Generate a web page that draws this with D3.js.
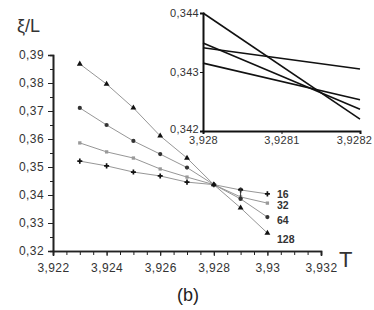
<!DOCTYPE html>
<html>
<head>
<meta charset="utf-8">
<script src="https://cdn.jsdelivr.net/npm/d3@7/dist/d3.min.js"></script>
<style>
  body { margin: 0; background: #fff; }
  svg text { font-family: Arial, "Liberation Sans", sans-serif; }
</style>
</head>
<body>
<svg id="chart" width="374" height="310"></svg>
<script>
// Main plot data
var temps = [3.923, 3.924, 3.925, 3.926, 3.927, 3.928, 3.929, 3.930];
var xi16  = [0.3521, 0.3504, 0.3482, 0.3468, 0.3446, 0.3437, 0.3418, 0.3404];
var xi32  = [0.3586, 0.3554, 0.3532, 0.3493, 0.3464, 0.3437, 0.3393, 0.3371];
var xi64  = [0.3711, 0.3650, 0.3593, 0.3546, 0.3498, 0.3437, 0.3386, 0.3321];
var xi128 = [0.3868, 0.3796, 0.3711, 0.3611, 0.3532, 0.3437, 0.3354, 0.3264];
var sizes = ["16", "32", "64", "128"];
var xTicks = [3.922, 3.924, 3.926, 3.928, 3.930, 3.932];
var yTicks = [0.32, 0.33, 0.34, 0.35, 0.36, 0.37, 0.38, 0.39];

// Inset data (zoom around the crossing)
var insetT = [3.928, 3.9282];
var in16  = [0.34341, 0.34305];
var in32  = [0.34315, 0.34253];
var in64  = [0.34349, 0.34237];
var in128 = [0.34400, 0.34220];
var insetXTicks = [3.928, 3.9281, 3.9282];
var insetYTicks = [0.342, 0.343, 0.344];

var fmt = function(d) { return String(+d.toFixed(4)).replace(".", ","); };

var svg = d3.select("#chart");

// Scales
var x = d3.scaleLinear().domain([3.922, 3.932]).range([53, 321]);
var y = d3.scaleLinear().domain([0.32, 0.39]).range([251, 55]);

// Y axis
var yAxis = svg.append("g").attr("transform", "translate(53,0)")
  .call(d3.axisLeft(y).tickValues(d3.range(0.32, 0.3901, 0.005)).tickSize(3).tickFormat(""));
yAxis.append("g").call(d3.axisLeft(y).tickValues(yTicks).tickSize(5).tickFormat(fmt));
yAxis.selectAll("path").attr("stroke", "#222").attr("stroke-width", 1.6);
yAxis.selectAll("line").attr("stroke", "#222");
yAxis.selectAll("text").attr("font-size", 12).attr("letter-spacing", 0.4).attr("fill", "#333").attr("dx", -1);

// X axis
var xAxis = svg.append("g").attr("transform", "translate(0,251)")
  .call(d3.axisBottom(x).tickValues(d3.range(3.922, 3.93201, 0.0005)).tickSize(4).tickFormat(""));
xAxis.append("g").call(d3.axisBottom(x).tickValues(xTicks).tickSize(5).tickFormat(fmt));
xAxis.selectAll("path").attr("stroke", "#222").attr("stroke-width", 1.6);
xAxis.selectAll("line").attr("stroke", "#222");
xAxis.selectAll("text").attr("font-size", 12).attr("letter-spacing", 0.4).attr("fill", "#333").attr("dy", "1.1em");

// Series
var series = [
  { name: "16",  vals: xi16,  shape: d3.symbolCross,    size: 14, fill: "#111", ly: 198 },
  { name: "32",  vals: xi32,  shape: d3.symbolSquare,   size: 11, fill: "#999", ly: 209 },
  { name: "64",  vals: xi64,  shape: d3.symbolCircle,   size: 14, fill: "#333", ly: 224 },
  { name: "128", vals: xi128, shape: d3.symbolTriangle, size: 15, fill: "#111", ly: 243 }
];

var line = d3.line().x(function(d) { return x(d[0]); }).y(function(d) { return y(d[1]); });

series.forEach(function(s, k) {
  var pts = temps.map(function(t, i) { return [t, s.vals[i]]; });
  svg.append("path").datum(pts)
    .attr("d", line).attr("fill", "none").attr("stroke", "#8a8a8a").attr("stroke-width", 0.9);
  svg.selectAll(".m" + k).data(pts).enter().append("path")
    .attr("transform", function(d) { return "translate(" + x(d[0]) + "," + y(d[1]) + ")"; })
    .attr("d", d3.symbol().type(s.shape).size(s.size))
    .attr("fill", s.fill);
  svg.append("text").attr("x", 277).attr("y", s.ly)
    .attr("font-size", 10.5).attr("font-weight", "bold").attr("fill", "#333").text(sizes[k]);
});

// small error bar at 3.929
var ex = x(3.929), ey1 = y(0.3423), ey2 = y(0.3388);
svg.append("path").attr("d", "M" + ex + "," + ey1 + "V" + ey2 +
    "M" + (ex - 2) + "," + ey1 + "H" + (ex + 2) + "M" + (ex - 2) + "," + ey2 + "H" + (ex + 2))
  .attr("fill", "none").attr("stroke", "#333").attr("stroke-width", 1);

// Axis titles
svg.append("text").attr("x", 17).attr("y", 32).attr("font-size", 18).attr("fill", "#333").text("ξ/L");
svg.append("text").attr("x", 339).attr("y", 267).attr("font-size", 22).attr("fill", "#333").text("T");
svg.append("text").attr("x", 188).attr("y", 301).attr("text-anchor", "middle")
  .attr("font-family", "'Liberation Serif', 'Times New Roman', serif")
  .attr("font-size", 18).attr("fill", "#222").text("(b)");

// Inset
var ix = d3.scaleLinear().domain([3.928, 3.9282]).range([203, 360]);
var iy = d3.scaleLinear().domain([0.342, 0.344]).range([131, 13]);

var iyAxis = svg.append("g").attr("transform", "translate(203,0)")
  .call(d3.axisLeft(iy).tickValues(insetYTicks).tickSize(3).tickFormat(fmt));
var ixAxis = svg.append("g").attr("transform", "translate(0,131)")
  .call(d3.axisBottom(ix).tickValues(insetXTicks).tickSize(3).tickFormat(fmt));
[iyAxis, ixAxis].forEach(function(a) {
  a.selectAll("path").attr("stroke", "#111").attr("stroke-width", 2);
  a.selectAll("line").attr("stroke", "#111");
  a.selectAll("text").attr("font-size", 11).attr("letter-spacing", 0.3).attr("fill", "#333");
});
iyAxis.selectAll("text").attr("dx", 2);
iyAxis.selectAll("text").filter(function(d) { return d === 0.342; }).attr("dy", "0.1em");
ixAxis.selectAll("text").attr("dy", "0.65em");
ixAxis.selectAll("text").filter(function(d) { return d === 3.9282; }).attr("dx", -6);

var iline = d3.line().x(function(d) { return ix(d[0]); }).y(function(d) { return iy(d[1]); });
[in16, in32, in64, in128].forEach(function(v) {
  var pts = insetT.map(function(t, i) { return [t, v[i]]; });
  svg.append("path").datum(pts).attr("d", iline)
    .attr("fill", "none").attr("stroke", "#111").attr("stroke-width", 1.6);
});
</script>
</body>
</html>
